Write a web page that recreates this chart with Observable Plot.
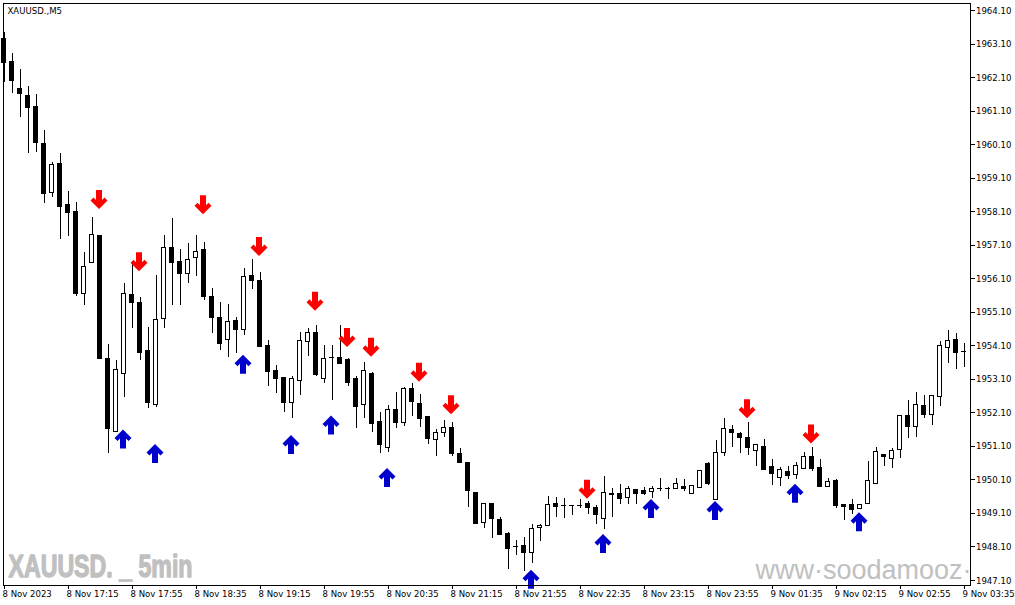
<!DOCTYPE html>
<html><head><meta charset="utf-8">
<script src="https://cdn.jsdelivr.net/npm/d3@7"></script>
<script src="https://cdn.jsdelivr.net/npm/@observablehq/plot@0.6"></script>
<style>
html,body{margin:0;padding:0;background:#fff;overflow:hidden;}
#chart svg{display:block;}
</style></head><body><div id="chart"></div>
<script>
// ---- data (XAUUSD., M5) ----
const open = [1963.26,1962.55,1961.77,1961.56,1961.23,1960.13,1958.67,1959.53,1958.31,1958.10,
1955.65,1956.58,1957.38,1953.71,1951.53,1953.26,1955.62,1955.38,1953.95,1952.34,
1954.91,1957.03,1956.61,1956.25,1956.73,1956.97,1955.56,1954.94,1954.28,1954.85,
1954.58,1956.19,1956.04,1954.10,1953.35,1953.14,1952.40,1953.05,1954.22,1954.49,
1953.11,1953.74,1953.74,1953.68,1953.11,1952.34,1953.26,1951.83,1951.06,1952.19,
1951.80,1952.82,1952.37,1951.98,1951.29,1951.50,1951.65,1950.88,1950.61,1949.71,
1948.82,1949.38,1948.91,1948.49,1948.10,1948.13,1947.92,1948.67,1948.73,1949.38,
1949.35,1949.35,1949.35,1949.38,1949.26,1948.94,1949.68,1949.68,1949.56,1949.80,
1949.77,1949.74,1949.83,1949.83,1949.83,1949.89,1949.68,1949.86,1950.58,1949.50,
1950.91,1951.59,1951.47,1951.35,1950.97,1951.08,1950.49,1950.16,1950.34,1950.25,
1950.43,1950.79,1950.46,1949.89,1950.07,1949.35,1949.35,1949.23,1949.38,1949.98,
1950.85,1950.73,1950.99,1952.01,1951.68,1952.31,1952.04,1952.58,1954.04,1954.28,
1953.92];
const high = [1963.44,1962.82,1962.34,1961.83,1961.59,1960.52,1959.56,1959.83,1958.70,1958.37,
1956.88,1957.92,1957.38,1954.13,1953.65,1955.95,1956.55,1955.53,1954.64,1956.19,
1957.38,1957.89,1956.97,1957.14,1957.38,1957.17,1955.80,1955.38,1955.32,1954.94,
1956.40,1956.67,1956.28,1954.25,1953.50,1953.14,1953.17,1954.49,1954.61,1954.70,
1954.10,1954.10,1954.70,1953.71,1953.17,1953.59,1953.29,1952.10,1952.31,1952.70,
1952.85,1952.97,1952.64,1951.98,1951.59,1951.86,1951.80,1951.03,1950.61,1949.71,
1949.41,1949.38,1948.97,1948.52,1948.28,1948.37,1948.76,1948.76,1949.62,1949.59,
1949.56,1949.35,1949.53,1949.47,1949.35,1950.19,1949.83,1949.95,1949.89,1949.80,
1949.86,1949.89,1950.13,1949.86,1950.13,1950.10,1949.92,1950.37,1950.61,1951.29,
1951.92,1951.71,1951.50,1951.80,1951.14,1951.32,1950.70,1950.46,1950.49,1950.61,
1950.91,1951.08,1950.70,1950.13,1950.10,1949.35,1949.53,1949.38,1950.64,1951.08,
1950.85,1951.03,1952.01,1952.46,1952.70,1952.61,1952.61,1954.22,1954.55,1954.46,
1954.16];
const low = [1961.95,1961.62,1960.91,1959.83,1959.86,1958.34,1958.52,1957.26,1957.35,1955.56,
1955.29,1956.55,1953.68,1950.88,1951.50,1952.55,1954.61,1953.65,1952.22,1952.25,
1954.61,1955.29,1955.29,1955.95,1956.16,1955.44,1954.46,1953.95,1953.74,1953.86,
1954.40,1955.77,1954.04,1952.88,1952.67,1952.10,1951.92,1952.61,1953.77,1953.17,
1952.97,1952.46,1953.53,1952.88,1951.62,1951.92,1951.50,1950.88,1950.91,1951.62,
1951.68,1951.98,1951.65,1951.17,1950.79,1951.38,1950.79,1950.61,1949.29,1948.79,
1948.64,1948.34,1948.43,1947.44,1947.86,1947.38,1947.62,1948.25,1948.73,1948.97,
1948.94,1949.03,1949.26,1949.08,1948.76,1948.61,1948.97,1949.38,1949.38,1949.38,
1949.65,1949.56,1949.74,1949.53,1949.83,1949.74,1949.68,1949.86,1949.92,1949.50,
1950.79,1951.06,1950.88,1950.82,1950.49,1950.40,1949.92,1949.89,1950.10,1950.10,
1950.40,1950.34,1949.86,1949.86,1949.26,1948.88,1949.08,1949.23,1949.38,1949.98,
1950.49,1950.43,1950.73,1951.35,1951.38,1951.92,1951.71,1952.28,1953.56,1953.38,
1953.44];
const close = [1962.52,1962.01,1961.62,1961.20,1960.16,1958.64,1959.50,1958.25,1958.07,1955.65,
1956.46,1957.41,1953.71,1951.62,1953.38,1955.65,1955.38,1953.89,1952.40,1954.88,
1957.03,1956.58,1956.25,1956.67,1956.91,1955.56,1954.94,1954.16,1954.82,1954.58,
1956.16,1956.04,1954.07,1953.32,1953.11,1952.40,1953.11,1954.25,1954.49,1953.23,
1953.71,1953.74,1953.56,1953.00,1952.28,1953.35,1951.77,1951.14,1952.19,1951.80,
1952.82,1952.43,1951.92,1951.32,1951.50,1951.65,1950.88,1950.61,1949.77,1948.79,
1949.38,1948.94,1948.46,1948.04,1948.10,1947.92,1948.64,1948.73,1949.35,1949.29,
1949.35,1949.35,1949.35,1949.26,1949.05,1949.71,1949.65,1949.53,1949.83,1949.68,
1949.68,1949.83,1949.83,1949.83,1949.98,1949.83,1949.92,1950.37,1949.98,1950.91,
1951.62,1951.50,1951.35,1951.06,1951.14,1950.40,1950.28,1950.40,1950.22,1950.52,
1950.79,1950.43,1949.89,1950.04,1949.32,1949.29,1949.20,1949.35,1950.07,1950.94,
1950.79,1950.97,1952.01,1951.68,1952.34,1952.04,1952.61,1954.10,1954.25,1953.89,
1953.92];

// signal arrows: bar index and price level
const sellBars  = [12,17,25,32,39,43,46,52,56,73,93,101];
const sellPrice = [1958.46,1956.61,1958.31,1957.06,1955.43,1954.35,1954.06,1953.31,1952.34,1949.82,1952.22,1951.47];
const buyBars   = [15,19,30,36,41,48,66,75,81,89,99,107];
const buyPrice  = [1951.32,1950.89,1953.55,1951.16,1951.74,1950.17,1947.14,1948.20,1949.25,1949.19,1949.70,1948.85];

// axis ticks
const timeTickBars = [0,8,16,24,32,40,48,56,64,72,80,88,96,104,112,120];
const timeLabels = ["8 Nov 2023","8 Nov 17:15","8 Nov 17:55","8 Nov 18:35","8 Nov 19:15","8 Nov 19:55",
  "8 Nov 20:35","8 Nov 21:15","8 Nov 21:55","8 Nov 22:35","8 Nov 23:15","8 Nov 23:55",
  "9 Nov 01:35","9 Nov 02:15","9 Nov 02:55","9 Nov 03:35"];
const priceTicks = [1947.10,1948.10,1949.10,1950.10,1951.10,1952.10,1953.10,1954.10,1955.10,
  1956.10,1957.10,1958.10,1959.10,1960.10,1961.10,1962.10,1963.10,1964.10];

const chartTitle = "XAUUSD.,M5";
const watermarkLeft = "XAUUSD. _ 5min";
const watermarkRight = "www\u00B7soodamooz\u00B7com";

// ---- build ----
const candles = open.map((o, i) => ({i, o, h: high[i], l: low[i], c: close[i]}));
const sells = sellBars.map((b, k) => ({i: b, p: sellPrice[k]}));
const buys = buyBars.map((b, k) => ({i: b, p: buyPrice[k]}));
const timeTicks = timeTickBars.map((b, k) => ({i: b, label: timeLabels[k]}));

// bold arrow glyph (pointing up in its own frame; flipped for sell signals)
const arrowPts = [[0,-9.5],[8.5,-1],[5.5,2],[3,-0.5],[3,9.5],[-3,9.5],[-3,-0.5],[-5.5,2],[-8.5,-1]];
function arrowSymbol(flip) {
  return {draw(ctx) {
    arrowPts.forEach(([x, y], k) => k ? ctx.lineTo(x, flip * y) : ctx.moveTo(x, flip * y));
    ctx.closePath();
  }};
}
const upArrow = arrowSymbol(1), downArrow = arrowSymbol(-1);

const font = "'DejaVu Sans Condensed', 'DejaVu Sans', sans-serif";

const chart = Plot.plot({
  width: 1015,
  height: 605,
  marginLeft: 2.5,
  marginTop: 2.5,
  marginRight: 45.5,
  marginBottom: 20.5,
  style: {fontFamily: font, fontSize: "9.5px", background: "white", color: "black", overflow: "visible"},
  x: {type: "linear", domain: [-0.125, 120.75], axis: null},
  y: {domain: [1946.966, 1964.324], axis: null},
  marks: [
    Plot.text([watermarkLeft], {frameAnchor: "bottom-left", dx: 5.5, dy: -8, textAnchor: "start",
      lineAnchor: "bottom", fontSize: 31, fontWeight: "bold",
      fontFamily: "'Liberation Sans Narrow', 'Liberation Sans', sans-serif", fill: "#c0c0c0",
      stroke: "#c0c0c0", strokeWidth: 1.3, className: "wm-left"}),
    Plot.text([watermarkRight], {frameAnchor: "bottom-left", dx: 752.5, dy: -6.5, textAnchor: "start",
      lineAnchor: "bottom", fontSize: 27, fontFamily: "'Liberation Sans', sans-serif", fill: "#c0c0c0", clip: true}),
    Plot.ruleX(candles, {x: "i", y1: "l", y2: "h", stroke: "black", strokeWidth: 1, shapeRendering: "crispEdges"}),
    Plot.rect(candles.filter(d => d.o !== d.c), {
      x1: d => d.i - 0.25, x2: d => d.i + 0.25, y1: "o", y2: "c",
      fill: d => d.c > d.o ? "white" : "black", stroke: "black", strokeWidth: 1, shapeRendering: "crispEdges"}),
    Plot.ruleY(candles.filter(d => d.o === d.c), {
      y: "o", x1: d => d.i - 0.3125, x2: d => d.i + 0.3125, stroke: "black", shapeRendering: "crispEdges"}),
    Plot.dot(sells, {x: "i", y: "p", symbol: downArrow, fill: "#ff0000", stroke: "none", dx: -1}),
    Plot.dot(buys, {x: "i", y: "p", symbol: upArrow, fill: "#0000cd", stroke: "none", dx: -1}),
    Plot.text([chartTitle], {frameAnchor: "top-left", dx: 4.5, dy: 4.5, textAnchor: "start", lineAnchor: "top",
      fill: "black"}),
    Plot.axisY(priceTicks, {anchor: "right", tickSize: 4, tickPadding: 2, tickFormat: d => d.toFixed(2),
      label: null, shapeRendering: "crispEdges"}),
    Plot.axisX(timeTickBars, {anchor: "bottom", tickSize: 4, tickFormat: () => "", label: null,
      shapeRendering: "crispEdges"}),
    Plot.text(timeTicks, {x: "i", text: "label", frameAnchor: "bottom", dy: 5, dx: -1.5,
      lineAnchor: "top", textAnchor: "start", fill: "black"}),
    Plot.frame({stroke: "black", shapeRendering: "crispEdges"})
  ]
});

// compress the left watermark horizontally like the original condensed face
chart.querySelectorAll(".wm-left text").forEach(t => {
  t.setAttribute("textLength", "184");
  t.setAttribute("lengthAdjust", "spacingAndGlyphs");
});
document.getElementById("chart").appendChild(chart);
</script>
</body></html>
